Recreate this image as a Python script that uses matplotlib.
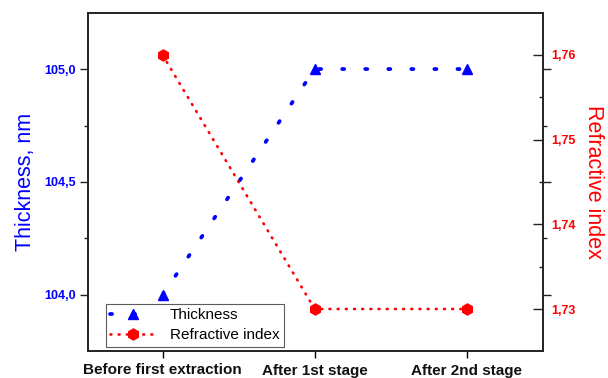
import matplotlib
matplotlib.use("Agg")
import matplotlib.pyplot as plt
from matplotlib.ticker import FixedLocator, FuncFormatter
from matplotlib.lines import Line2D

plt.rcParams['font.family'] = ['Liberation Sans', 'DejaVu Sans']

stages = ["Before first extraction", "After 1st stage", "After 2nd stage"]
thickness = [104.0, 105.0, 105.0]
refr_index = [1.76, 1.73, 1.73]

thick_ticks = [104.0, 104.5, 105.0]
thick_minor = [104.25, 104.75]
ri_ticks = [1.73, 1.74, 1.75, 1.76]
ri_minor = [1.735, 1.745, 1.755]

BLUE = '#0000ff'
RED = '#ff0000'
blue_style = dict(color=BLUE, lw=2.7, linestyle=(0, (0.55, 5.6)),
                  dash_capstyle='round', marker='^', markersize=7.5)
red_style = dict(color=RED, lw=1.9, linestyle=(0, (0.35, 2.75)),
                 dash_capstyle='round', marker='h', markersize=8)

fig = plt.figure(figsize=(6.08, 3.78), dpi=100)
ax = fig.add_axes([88/608, 1 - 351/378, (543-88)/608, (351-13)/378])
ax2 = ax.twinx()

x = list(range(len(stages)))

ax.plot(x, thickness, zorder=3, **blue_style)
ax2.plot(x, refr_index, zorder=3, **red_style)

ax.set_xlim(-0.49, 2.5)
ax.set_ylim(103.752, 105.248)
ax2.set_ylim(1.72504, 1.76496)

ax.set_xticks(x)
ax.set_xticklabels(stages, fontweight='bold', fontsize=11, color='#111111')
ax.tick_params(axis='x', direction='out', length=5, width=1, pad=4)

comma = lambda fmt: FuncFormatter(lambda v, p: (fmt % v).replace('.', ','))

ax.yaxis.set_major_locator(FixedLocator(thick_ticks))
ax.yaxis.set_minor_locator(FixedLocator(thick_minor))
ax.yaxis.set_major_formatter(comma('%.1f'))
ax.tick_params(axis='y', which='major', direction='out', length=6, width=1,
               color='#222222', labelcolor=BLUE, labelsize=9, right=True, pad=3)
ax.tick_params(axis='y', which='minor', direction='out', length=3, width=1,
               color='#222222', right=True)
for lab in ax.get_yticklabels():
    lab.set_fontweight('bold')

ax2.yaxis.set_major_locator(FixedLocator(ri_ticks))
ax2.yaxis.set_minor_locator(FixedLocator(ri_minor))
ax2.yaxis.set_major_formatter(comma('%.2f'))
ax2.tick_params(axis='y', which='major', direction='in', length=7, width=1,
                color='#222222', labelcolor=RED, labelsize=9, pad=6)
ax2.tick_params(axis='y', which='minor', direction='in', length=3, width=1,
                color='#222222')
for lab in ax2.get_yticklabels():
    lab.set_fontweight('bold')

for a in (ax, ax2):
    for s in a.spines.values():
        s.set_linewidth(1.2)
        s.set_color('#222222')

ax.set_ylabel("Thickness, nm", color=BLUE, fontsize=15.5, labelpad=6)
ax2.set_ylabel("Refractive index", color=RED, fontsize=15.5,
               rotation=270, labelpad=20)

handles = [Line2D([], [], **blue_style), Line2D([], [], **red_style)]
leg = ax.legend(handles, ["Thickness", "Refractive index"], loc='lower left',
                bbox_to_anchor=(0.022, -0.011), fontsize=11, frameon=True,
                fancybox=False, edgecolor='#333333', handlelength=3.0,
                borderpad=0.3, labelspacing=0.4, handletextpad=0.9)
leg.get_frame().set_linewidth(0.8)

fig.savefig("out.png", dpi=100, facecolor='white')
